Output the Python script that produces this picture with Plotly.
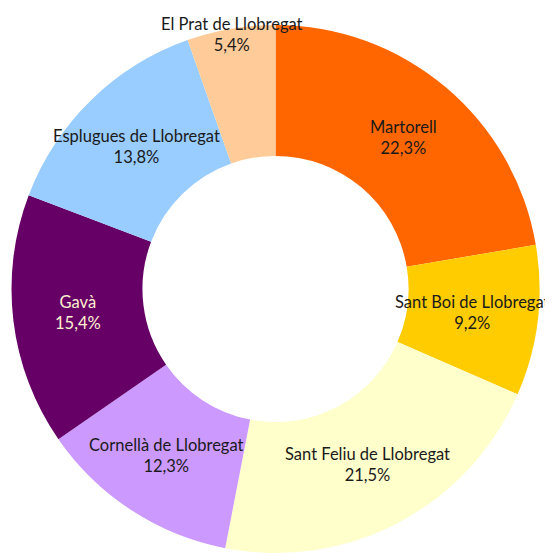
import math
import plotly.graph_objects as go

# ---- data ----
municipis = [
    "Martorell",
    "Sant Boi de Llobregat",
    "Sant Feliu de Llobregat",
    "Cornellà de Llobregat",
    "Gavà",
    "Esplugues de Llobregat",
    "El Prat de Llobregat",
]
percentatges = [22.3, 9.2, 21.5, 12.3, 15.4, 13.8, 5.4]

# ---- styles ----
colors = ["#FF6600", "#FFCC00", "#FFFFCC", "#CC99FF", "#660066", "#99CCFF", "#FFCC99"]
text_colors = ["#1a1a1a", "#1a1a1a", "#1a1a1a", "#1a1a1a", "#FFF0D0", "#1a1a1a", "#1a1a1a"]
FONT = "Lato"
FSIZE = 16.5

# page body has an 8px default margin, so the figure is 545x545
W = H = 545
dom_x = [3.5 / W, 531.5 / W]
dom_y = [0.0, 528.0 / H]
HOLE = 0.504

fig = go.Figure(
    go.Pie(
        labels=municipis,
        values=percentatges,
        sort=False,
        direction="clockwise",
        rotation=0,
        hole=HOLE,
        marker=dict(colors=colors, line=dict(width=0)),
        textinfo="none",
        hoverinfo="label+percent",
        domain=dict(x=dom_x, y=dom_y),
    )
)

# label positions derived from the data (slice mid-angles)
cx = (dom_x[0] + dom_x[1]) / 2 * W
cy = (dom_y[0] + dom_y[1]) / 2 * H
r_out = min((dom_x[1] - dom_x[0]) * W, (dom_y[1] - dom_y[0]) * H) / 2
r_in = r_out * HOLE
total = sum(percentatges)
cum = 0.0
annotations = []
for name, v, tc in zip(municipis, percentatges, text_colors):
    mid = (cum + v / 2) / total * 2 * math.pi
    cum += v
    r = (r_out + r_in) / 2 if v / total >= 0.06 else r_out - 6
    x = (cx + r * math.sin(mid)) / W
    y = (cy + r * math.cos(mid)) / H
    annotations.append(
        dict(
            x=x, y=y, xref="paper", yref="paper",
            xanchor="center", yanchor="middle",
            text=f"{name}<br>{v:.1f}%".replace(".", ","),
            showarrow=False,
            font=dict(family=FONT, size=FSIZE, color=tc),
        )
    )

fig.update_layout(
    width=W,
    height=H,
    margin=dict(l=0, r=0, t=0, b=0),
    paper_bgcolor="white",
    plot_bgcolor="white",
    showlegend=False,
    annotations=annotations,
    font=dict(family=FONT, size=FSIZE),
)

fig.write_html("out.html")
